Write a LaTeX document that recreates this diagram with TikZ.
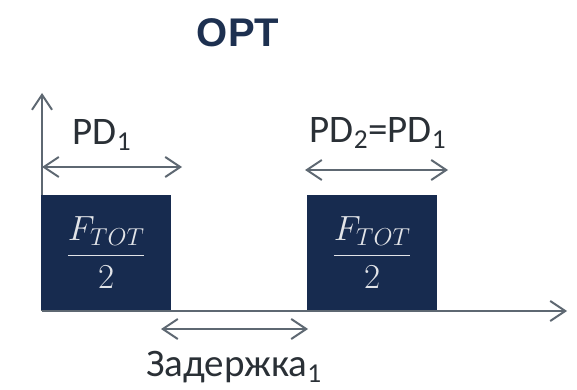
\RequirePackage{fix-cm}
\documentclass[tikz,border=0pt]{standalone}
\usepackage{amsmath}
\usepackage[no-math]{fontspec}
\setmainfont{Carlito}
\newfontfamily\titlefont{Liberation Sans}
\usetikzlibrary{arrows.meta,positioning}
\definecolor{navy}{HTML}{172B4F}
\definecolor{ttl}{HTML}{1D3050}
\definecolor{axgray}{HTML}{5E6872}
\definecolor{lbl}{HTML}{2A3036}
\definecolor{fracw}{HTML}{E2E4E8}

\begin{document}
\begin{tikzpicture}[x=1pt,y=-1pt,
  barb/.tip={Straight Barb[length=15pt,width=20pt]},
  axisline/.style={axgray,line width=2pt,-barb},
  span/.style={axgray,line width=2pt,barb-barb},
  pulse/.style={fill=navy,inner sep=0pt,minimum width=130pt,minimum height=115pt,
    anchor=south west,text=fracw,font=\fontsize{35}{40}\selectfont},
  lab/.style={lbl,font=\fontsize{39}{42}\selectfont,inner sep=0pt}]
\useasboundingbox (0,0) rectangle (577,390);
% axes
\coordinate (o) at (42,311);
\coordinate (ytip) at (42,93);
\coordinate (xtip) at (567,311);
\draw[axisline] (o) -- (ytip);
\draw[axisline] (o) -- (xtip);
% pulses
\foreach \i/\xx in {1/41,2/307}{
  \node[pulse] (box\i) at (\xx,310) {$\dfrac{F_{TOT}}{2}$};
}
% durations
\coordinate (pd1l) at (42,167);
\coordinate (pd1r) at (182,167);
\coordinate (pd2l) at (305,170);
\coordinate (pd2r) at (448,170);
\coordinate (dl) at (161,329);
\coordinate (dr) at (308,329);
\draw[span] (pd1l) -- (pd1r);
\draw[span] (pd2l) -- (pd2r);
\draw[span] (dl) -- (dr);
\node[lab] (pd1) at (102,135) {PD\textsubscript{1}};
\node[lab] (pd2) at (378,133) {PD\textsubscript{2}=PD\textsubscript{1}};
\node[lab] (delay) at (234,367) {Задержка\textsubscript{1}};
\node[ttl,font=\titlefont\bfseries\fontsize{40}{44}\selectfont] (title) at (238,33) {OPT};
\end{tikzpicture}
\end{document}
